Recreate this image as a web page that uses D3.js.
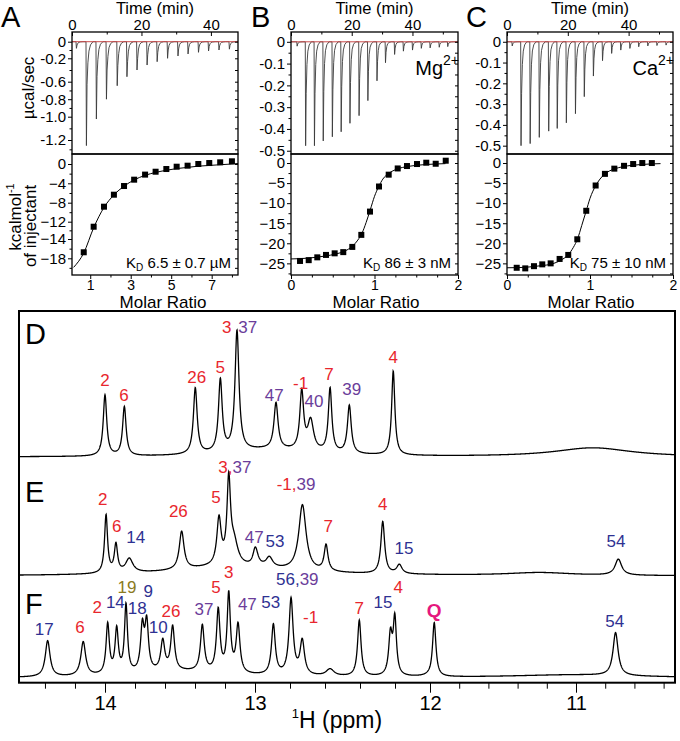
<!DOCTYPE html>
<html>
<head>
<meta charset="utf-8">
<script src="https://cdn.jsdelivr.net/npm/d3@7"></script>
<style>
body { margin: 0; background: #fff; }
svg { display: block; font-family: "Liberation Sans", Arial, Helvetica, sans-serif; }
</style>
</head>
<body>
<svg id="fig" width="680" height="741"></svg>
<script>
// ---------------- ITC raw data (ucal/sec) ----------------
// injection times (min) and peak depths
var injA = [1.15, 4.03, 6.9, 9.8, 12.9, 15.7, 18.6, 21.5, 24.4, 27.4, 30.4, 33.3, 36.3, 39.2, 42.2, 45.2];
var powA = [-0.08, -1.26, -1.02, -0.8, -0.646, -0.515, -0.4, -0.315, -0.258, -0.2, -0.172, -0.148, -0.128, -0.112, -0.1, -0.09];
var injB = [1.9, 4.7, 7.6, 10.5, 13.5, 16.4, 19.3, 22.3, 25.2, 28.2, 31, 34, 36.9, 39.9, 42.8, 45.7, 48.7, 51.5];
var powB = [-0.02, -0.477, -0.477, -0.455, -0.436, -0.413, -0.374, -0.339, -0.27, -0.179, -0.096, -0.058, -0.043, -0.038, -0.03, -0.028, -0.025, -0.022];
var injC = [1.6, 4.5, 7.5, 10.5, 13.6, 16.4, 19.4, 22.4, 25.3, 28.3, 31.3, 34.3, 37.3, 40.3, 43.2, 46.2, 49.2, 52.2];
var powC = [-0.02, -0.5, -0.49, -0.46, -0.43, -0.417, -0.39, -0.346, -0.264, -0.165, -0.091, -0.056, -0.04, -0.032, -0.024, -0.02, -0.018, -0.016];

// integrated heats (kcal/mol of injectant) vs molar ratio
var ratioA = [0.68, 1.17, 1.68, 2.17, 2.67, 3.17, 3.71, 4.23, 4.76, 5.27, 5.81, 6.34, 6.88, 7.42, 8.0];
var heatA = [-16.75, -12.58, -8.84, -6.35, -4.56, -3.25, -2.2, -1.6, -1.04, -0.56, -0.35, 0, 0.2, 0.35, 0.56];
var fitRatioA = [0.18, 0.68, 1.17, 1.68, 2.17, 2.67, 3.17, 3.71, 4.23, 4.76, 5.27, 5.81, 6.34, 6.88, 7.42, 8.0, 8.3];
var fitHeatA = [-19.9, -16.9, -12.7, -9.0, -6.4, -4.6, -3.3, -2.35, -1.75, -1.3, -0.95, -0.7, -0.45, -0.3, -0.15, 0.0, 0.1];

var ratioB = [0.108, 0.212, 0.315, 0.419, 0.523, 0.626, 0.734, 0.842, 0.946, 1.054, 1.17, 1.278, 1.389, 1.509, 1.62, 1.733, 1.853];
var heatB = [-24.4, -24.2, -23.5, -22.9, -22.5, -22.2, -20.9, -17.9, -12.1, -5.85, -2.9, -1.35, -0.75, -0.25, 0.08, -0.18, 0.58];
var fitRatioB = [0, 0.2, 0.4, 0.55, 0.65, 0.73, 0.8, 0.85, 0.9, 0.95, 1.0, 1.05, 1.1, 1.17, 1.27, 1.4, 1.6, 1.85];
var fitHeatB = [-23.9, -23.7, -23.2, -22.6, -21.9, -20.8, -19.2, -17.5, -14.8, -11.6, -8.3, -5.9, -4.0, -2.6, -1.5, -0.85, -0.4, -0.15];

var ratioC = [0.117, 0.22, 0.325, 0.425, 0.526, 0.634, 0.738, 0.847, 0.955, 1.068, 1.18, 1.293, 1.41, 1.52, 1.63, 1.745];
var heatC = [-26.1, -26.25, -25.7, -25.25, -25, -23.9, -22.9, -19, -11.9, -5.6, -2.7, -1.4, -0.7, -0.25, 0, 0];
var fitRatioC = [0, 0.2, 0.4, 0.55, 0.65, 0.74, 0.8, 0.85, 0.9, 0.955, 1.0, 1.07, 1.12, 1.18, 1.29, 1.4, 1.6, 1.85];
var fitHeatC = [-26.1, -26.0, -25.6, -25.1, -24.2, -22.8, -21.0, -18.9, -15.6, -11.9, -8.8, -5.6, -4.0, -2.7, -1.5, -0.9, -0.4, -0.15];

var timeTicks = [0, 20, 40];
var kdLabels = ["6.5 \u00b1 0.7 \u00b5M", "86 \u00b1 3 nM", "75 \u00b1 10 nM"];

// ---------------- 1H NMR imino spectra ----------------
// peaks: [ppm, height, half width (ppm)]
var peaksD = [[14.0, 61, 0.014], [13.871, 49, 0.014], [13.398, 66, 0.015], [13.231, 72, 0.015], [13.12, 120, 0.016],
  [12.88, 46, 0.014], [12.733, 58, 0.013], [12.682, 30, 0.02], [12.571, 64, 0.012], [12.461, 48, 0.013],
  [12.21, 84, 0.011], [10.884, 9, 0.32], [12.926, 7, 0.32]];
var peaksE = [[13.993, 58, 0.012], [13.927, 28, 0.013], [13.838, 14, 0.029], [13.489, 38, 0.019], [13.24, 46, 0.017],
  [13.175, 82, 0.014], [13.14, 22, 0.031], [12.998, 18, 0.018], [12.918, 10, 0.023], [12.729, 66, 0.025],
  [12.594, 26, 0.013], [12.27, 52, 0.013], [12.175, 9, 0.018], [10.71, 16, 0.027], [11.247, 3, 0.27], [13.176, 9, 0.45]];
var peaksF = [[14.382, 36, 0.019], [14.145, 34, 0.019], [13.982, 50, 0.013], [13.922, 44, 0.013], [13.86, 68, 0.012],
  [13.751, 44, 0.014], [13.722, 48, 0.014], [13.615, 30, 0.016], [13.549, 44, 0.015], [13.351, 46, 0.015],
  [13.245, 62, 0.014], [13.175, 78, 0.013], [13.113, 48, 0.015], [12.895, 50, 0.013], [12.794, 76, 0.014],
  [12.73, 34, 0.015], [12.571, 7, 0.027], [12.404, 56, 0.012], [12.226, 40, 0.012], [12.201, 56, 0.011],
  [11.971, 54, 0.014], [10.729, 43, 0.021], [13.49, 6, 0.37], [11.014, 3, 0.54]];

// assignments: [parts [text, colour key], ppm, height]
var labelsD = [[[["2", "r"]], 14.0, 71], [[["6", "r"]], 13.873, 56], [[["26", "r"]], 13.389, 74], [[["5", "r"]], 13.231, 84],
  [[["3", "r"]], 13.189, 124], [[["37", "p"]], 13.048, 124], [[["47", "p"]], 12.89, 56], [[["-1", "r"]], 12.739, 68],
  [[["40", "p"]], 12.663, 50], [[["7", "r"]], 12.577, 77], [[["39", "p"]], 12.447, 62], [[["4", "r"]], 12.21, 94]];
var labelsE = [[[["2", "r"]], 14.015, 71], [[["6", "r"]], 13.922, 44], [[["14", "b"]], 13.795, 33], [[["26", "r"]], 13.511, 59],
  [[["5", "r"]], 13.26, 73], [[["3,", "r"], ["37", "p"]], 13.245, 103], [[["47", "p"]], 13.005, 33], [[["53", "b"]], 12.886, 29],
  [[["-1,", "r"], ["39", "p"]], 12.876, 86], [[["7", "r"]], 12.581, 44], [[["4", "r"]], 12.27, 66], [[["15", "b"]], 12.149, 22],
  [[["54", "b"]], 10.726, 29]];
var labelsF = [[[["17", "b"]], 14.405, 43], [[["6", "r"]], 14.167, 45], [[["2", "r"]], 14.051, 65], [[["14", "b"]], 13.931, 70],
  [[["19", "o"]], 13.853, 85], [[["18", "b"]], 13.785, 64], [[["9", "b"]], 13.711, 81], [[["10", "b"]], 13.645, 45],
  [[["26", "r"]], 13.56, 61], [[["37", "p"]], 13.34, 63], [[["5", "r"]], 13.26, 85], [[["3", "r"]], 13.175, 100],
  [[["47", "p"]], 13.051, 68], [[["53", "b"]], 12.91, 70], [[["56,", "b"], ["39", "p"]], 12.88, 93], [[["-1", "r"]], 12.682, 55],
  [[["7", "r"]], 12.404, 64], [[["15", "b"]], 12.269, 70], [[["4", "r"]], 12.181, 85], [[["Q", "q"]], 11.971, 61],
  [[["54", "b"]], 10.735, 51]];
var ppmTicks = [14, 13, 12, 11];

// ---------------- drawing ----------------
var svg = d3.select("#fig");
var colour = d3.scaleOrdinal().domain(["r", "p", "b", "o", "q"])
  .range(["#e8262d", "#6b3d9a", "#2e3192", "#8b7b1e", "#e5177e"]);

var upTop = 32, upBot = 154, loBot = 275;
// shape of one injection spike (min after injection, fraction of depth)
var spikeDt = [0, 0.12, 0.3, 0.55, 0.85, 1.3, 2.0];
var spikeFrac = [0, 1, 0.5, 0.22, 0.09, 0.03, 0];

var panels = [
  {letter: "A", lx: 1, x0: 72, x1: 238, tMax: 47.8, inj: injA, pow: powA,
   yUp: d3.scaleLinear().domain([0.12, 0, -0.2, -0.6, -1.0, -1.2, -1.35]).range([32, 41.7, 58.3, 81.7, 116.7, 140, 154]),
   upTicks: [0, -0.2, -0.6, -0.8, -1.0, -1.2], upMinor: [-0.1, -0.4, -0.7, -0.9, -1.1, -1.3],
   rDom: [0.1, 8.3], rTicks: [1, 3, 5, 7], rMinor: [2, 4, 6, 8],
   yLo: d3.scaleLinear().domain([2.07, 0, -4, -8, -12, -14, -18, -21.5]).range([154, 164, 183.3, 202.7, 221.7, 239, 258.3, 275]),
   loTicks: [0, -4, -8, -12, -14, -18], loMinor: [-2, -6, -10, -13, -16, -20],
   ratio: ratioA, heat: heatA, fitR: fitRatioA, fitH: fitHeatA, kd: kdLabels[0], titleX: 163},
  {letter: "B", lx: 251, x0: 291, x1: 458, tMax: 55, inj: injB, pow: powB, ion: "Mg",
   yUp: d3.scaleLinear().domain([0.045, -0.515]).range([upTop, upBot]),
   upTicks: [0, -0.1, -0.2, -0.3, -0.4, -0.5], upMinor: [-0.05, -0.15, -0.25, -0.35, -0.45],
   rDom: [0, 2], rTicks: [0, 1, 2], rMinor: [0.25, 0.5, 0.75, 1.25, 1.5, 1.75],
   yLo: d3.scaleLinear().domain([2.25, -27.9]).range([upBot, loBot]),
   loTicks: [0, -5, -10, -15, -20, -25], loMinor: [-2.5, -7.5, -12.5, -17.5, -22.5, -27.5],
   ratio: ratioB, heat: heatB, fitR: fitRatioB, fitH: fitHeatB, kd: kdLabels[1], titleX: 376},
  {letter: "C", lx: 466, x0: 507, x1: 673, tMax: 54.6, inj: injC, pow: powC, ion: "Ca",
   yUp: d3.scaleLinear().domain([0.047, -0.54]).range([upTop, upBot]),
   upTicks: [0, -0.1, -0.2, -0.3, -0.4, -0.5], upMinor: [-0.05, -0.15, -0.25, -0.35, -0.45],
   rDom: [0, 2], rTicks: [0, 1, 2], rMinor: [0.25, 0.5, 0.75, 1.25, 1.5, 1.75],
   yLo: d3.scaleLinear().domain([2.25, -27.9]).range([upBot, loBot]),
   loTicks: [0, -5, -10, -15, -20, -25], loMinor: [-2.5, -7.5, -12.5, -17.5, -22.5, -27.5],
   ratio: ratioC, heat: heatC, fitR: fitRatioC, fitH: fitHeatC, kd: kdLabels[2], titleX: 591}
];

function styleAxis(g, size) {
  g.select(".domain").remove();
  g.selectAll("text").attr("font-size", size).attr("fill", "#000")
    .attr("font-family", '"Liberation Sans", Arial, sans-serif');
  g.selectAll("line").attr("stroke", "#000").attr("stroke-width", 1);
}

function fmt1(d) { return d === 0 ? "0" : d.toFixed(1); }

panels.forEach(function(p, i) {
  var g = svg.append("g");
  var t = d3.scaleLinear().domain([0, p.tMax]).range([p.x0, p.x1]);
  var r = d3.scaleLinear().domain(p.rDom).range([p.x0, p.x1]);

  g.append("clipPath").attr("id", "clipUp" + i)
    .append("rect").attr("x", p.x0).attr("y", upTop).attr("width", p.x1 - p.x0).attr("height", upBot - upTop);

  // thermogram
  var pts = [[0, 0]];
  p.inj.forEach(function(t0, k) {
    spikeDt.forEach(function(dt, j) { pts.push([t0 + dt, p.pow[k] * spikeFrac[j]]); });
  });
  pts.push([p.tMax, 0]);
  var raw = d3.line().x(function(d) { return t(d[0]); }).y(function(d) { return p.yUp(d[1]); });
  g.append("path").attr("clip-path", "url(#clipUp" + i + ")")
    .attr("d", raw(pts)).attr("fill", "none").attr("stroke", "#3a3a3a").attr("stroke-width", 0.9);
  g.append("line").attr("x1", t(0)).attr("x2", t(p.tMax)).attr("y1", p.yUp(0)).attr("y2", p.yUp(0))
    .attr("stroke", "#c94a4a").attr("stroke-width", 1);

  // upper axes
  var top = g.append("g").attr("transform", "translate(0," + upTop + ")")
    .call(d3.axisTop(t).tickValues(timeTicks).tickSize(-4).tickPadding(2));
  styleAxis(top, 15);
  g.append("g").attr("transform", "translate(0," + upTop + ")")
    .call(d3.axisTop(t).tickValues([10, 30, 50].filter(function(v) { return v < p.tMax; })).tickSize(-2.5).tickFormat(""))
    .call(styleAxis, 15);
  var left = g.append("g").attr("transform", "translate(" + p.x0 + ",0)")
    .call(d3.axisLeft(p.yUp).tickValues(p.upTicks).tickSize(4).tickPadding(2).tickFormat(fmt1));
  styleAxis(left, 15);
  g.append("g").attr("transform", "translate(" + p.x0 + ",0)")
    .call(d3.axisLeft(p.yUp).tickValues(p.upMinor).tickSize(2.5).tickFormat("")).call(styleAxis, 15);
  g.append("g").attr("transform", "translate(" + p.x1 + ",0)")
    .call(d3.axisLeft(p.yUp).tickValues(p.upTicks.concat(p.upMinor)).tickSize(3).tickFormat("")).call(styleAxis, 15);

  // lower plot: integrated heats
  var fit = d3.line().curve(d3.curveMonotoneX)
    .x(function(d) { return r(d); }).y(function(d, k) { return p.yLo(p.fitH[k]); });
  g.append("path").attr("d", fit(p.fitR)).attr("fill", "none").attr("stroke", "#000").attr("stroke-width", 1);
  g.selectAll(".sq").data(p.ratio).enter().append("rect")
    .attr("x", function(d) { return r(d) - 3; })
    .attr("y", function(d, k) { return p.yLo(p.heat[k]) - 3; })
    .attr("width", 6).attr("height", 6).attr("fill", "#000");

  var bottom = g.append("g").attr("transform", "translate(0," + loBot + ")")
    .call(d3.axisBottom(r).tickValues(p.rTicks).tickSize(4).tickPadding(1.5).tickFormat(d3.format("d")));
  styleAxis(bottom, 14);
  g.append("g").attr("transform", "translate(0," + loBot + ")")
    .call(d3.axisBottom(r).tickValues(p.rMinor).tickSize(2.5).tickFormat("")).call(styleAxis, 15);
  var lleft = g.append("g").attr("transform", "translate(" + p.x0 + ",0)")
    .call(d3.axisLeft(p.yLo).tickValues(p.loTicks).tickSize(4).tickPadding(2).tickFormat(d3.format("d")));
  styleAxis(lleft, 15);
  g.append("g").attr("transform", "translate(" + p.x0 + ",0)")
    .call(d3.axisLeft(p.yLo).tickValues(p.loMinor).tickSize(2.5).tickFormat("")).call(styleAxis, 15);
  g.append("g").attr("transform", "translate(" + p.x1 + ",0)")
    .call(d3.axisLeft(p.yLo).tickValues(p.loTicks.concat(p.loMinor)).tickSize(3).tickFormat("")).call(styleAxis, 15);

  // frames
  g.append("rect").attr("x", p.x0).attr("y", upTop).attr("width", p.x1 - p.x0).attr("height", upBot - upTop)
    .attr("fill", "none").attr("stroke", "#000").attr("stroke-width", 1.3);
  g.append("rect").attr("x", p.x0).attr("y", upBot).attr("width", p.x1 - p.x0).attr("height", loBot - upBot)
    .attr("fill", "none").attr("stroke", "#000").attr("stroke-width", 1.3);

  // texts
  g.append("text").attr("x", p.lx).attr("y", 27).attr("font-size", 29).text(p.letter);
  g.append("text").attr("x", (p.x0 + p.x1) / 2).attr("y", 14).attr("text-anchor", "middle")
    .attr("font-size", 16.5).text("Time (min)");
  g.append("text").attr("x", p.titleX).attr("y", 308).attr("text-anchor", "middle")
    .attr("font-size", 17).text("Molar Ratio");
  var kd = g.append("text").attr("x", p.x1 - 7).attr("y", 268).attr("text-anchor", "end").attr("font-size", 15);
  kd.append("tspan").text("K");
  kd.append("tspan").attr("font-size", 10).attr("dy", 3).text("D");
  kd.append("tspan").attr("dy", -3).text(" " + p.kd);
  if (p.ion) {
    var ion = g.append("text").attr("x", p.x1 + 1).attr("y", 75).attr("text-anchor", "end").attr("font-size", 20);
    ion.append("tspan").text(p.ion);
    ion.append("tspan").attr("font-size", 14).attr("dy", -10).text("2+");
  }
});

// y titles of panel A
svg.append("text").attr("transform", "translate(34,88) rotate(-90)").attr("text-anchor", "middle")
  .attr("font-size", 17).text("\u00b5cal/sec");
var kc = svg.append("text").attr("transform", "translate(21,217) rotate(-90)").attr("text-anchor", "middle")
  .attr("font-size", 17);
kc.append("tspan").text("kcalmol");
kc.append("tspan").attr("font-size", 11).attr("dy", -7).text("-1");
svg.append("text").attr("transform", "translate(36,226) rotate(-90)").attr("text-anchor", "middle")
  .attr("font-size", 17).text("of injectant");

// ---------------- NMR panel ----------------
var nx0 = 19, nx1 = 675, ny0 = 311, ny1 = 682.7;
// the printed ppm axis is not evenly spaced, so map each labelled ppm to its place
var ppm = d3.scaleLinear().domain([14.573, 14, 13, 12, 11, 10.322]).range([nx0, 105, 255, 430, 576, nx1]);
var inten = d3.scaleLinear().domain([0, 100]).range([0, -100]);
var grid = d3.range(14.573, 10.322, -0.0015);

function spectrum(peaks) {
  return grid.map(function(x) {
    var s = 0;
    peaks.forEach(function(pk) { var u = (x - pk[0]) / pk[2]; s += pk[1] / (1 + u * u); });
    return [x, s];
  });
}

var spectra = [
  {peaks: peaksD, labels: labelsD, base: 457, letter: "D", ly: 344},
  {peaks: peaksE, labels: labelsE, base: 576, letter: "E", ly: 502},
  {peaks: peaksF, labels: labelsF, base: 678, letter: "F", ly: 614}
];

svg.append("clipPath").attr("id", "clipN")
  .append("rect").attr("x", nx0).attr("y", ny0).attr("width", nx1 - nx0).attr("height", ny1 - ny0);

spectra.forEach(function(s) {
  var line = d3.line().x(function(d) { return ppm(d[0]); }).y(function(d) { return s.base + inten(d[1]); });
  svg.append("path").attr("clip-path", "url(#clipN)").attr("d", line(spectrum(s.peaks)))
    .attr("fill", "none").attr("stroke", "#000").attr("stroke-width", 1.3);
  svg.append("text").attr("x", 25).attr("y", s.ly).attr("font-size", 29).text(s.letter);
  s.labels.forEach(function(l) {
    var txt = svg.append("text").attr("x", ppm(l[1])).attr("y", s.base + inten(l[2]))
      .attr("font-size", 17).attr("text-anchor", l[0].length > 1 ? "start" : "middle");
    l[0].forEach(function(part) {
      var ts = txt.append("tspan").attr("fill", colour(part[1])).text(part[0]);
      if (part[1] === "q") ts.attr("font-weight", "bold").attr("font-size", 19);
    });
  });
});

svg.append("rect").attr("x", nx0).attr("y", ny0).attr("width", nx1 - nx0).attr("height", ny1 - ny0)
  .attr("fill", "none").attr("stroke", "#000").attr("stroke-width", 2);

var nAxis = svg.append("g").attr("transform", "translate(0," + ny1 + ")")
  .call(d3.axisBottom(ppm).tickValues(ppmTicks).tickSize(10).tickPadding(3).tickFormat(d3.format("d")));
styleAxis(nAxis, 20);
var minorPpm = d3.range(14.4, 10.35, -0.2).filter(function(v) { return Math.abs(v - Math.round(v)) > 0.01; });
svg.append("g").attr("transform", "translate(0," + ny1 + ")")
  .call(d3.axisBottom(ppm).tickValues(minorPpm).tickSize(6).tickFormat("")).call(styleAxis, 20);

var xl = svg.append("text").attr("x", 337).attr("y", 728).attr("text-anchor", "middle").attr("font-size", 23);
xl.append("tspan").attr("font-size", 13).attr("dy", -10).text("1");
xl.append("tspan").attr("dy", 10).text("H (ppm)");
</script>
</body>
</html>
